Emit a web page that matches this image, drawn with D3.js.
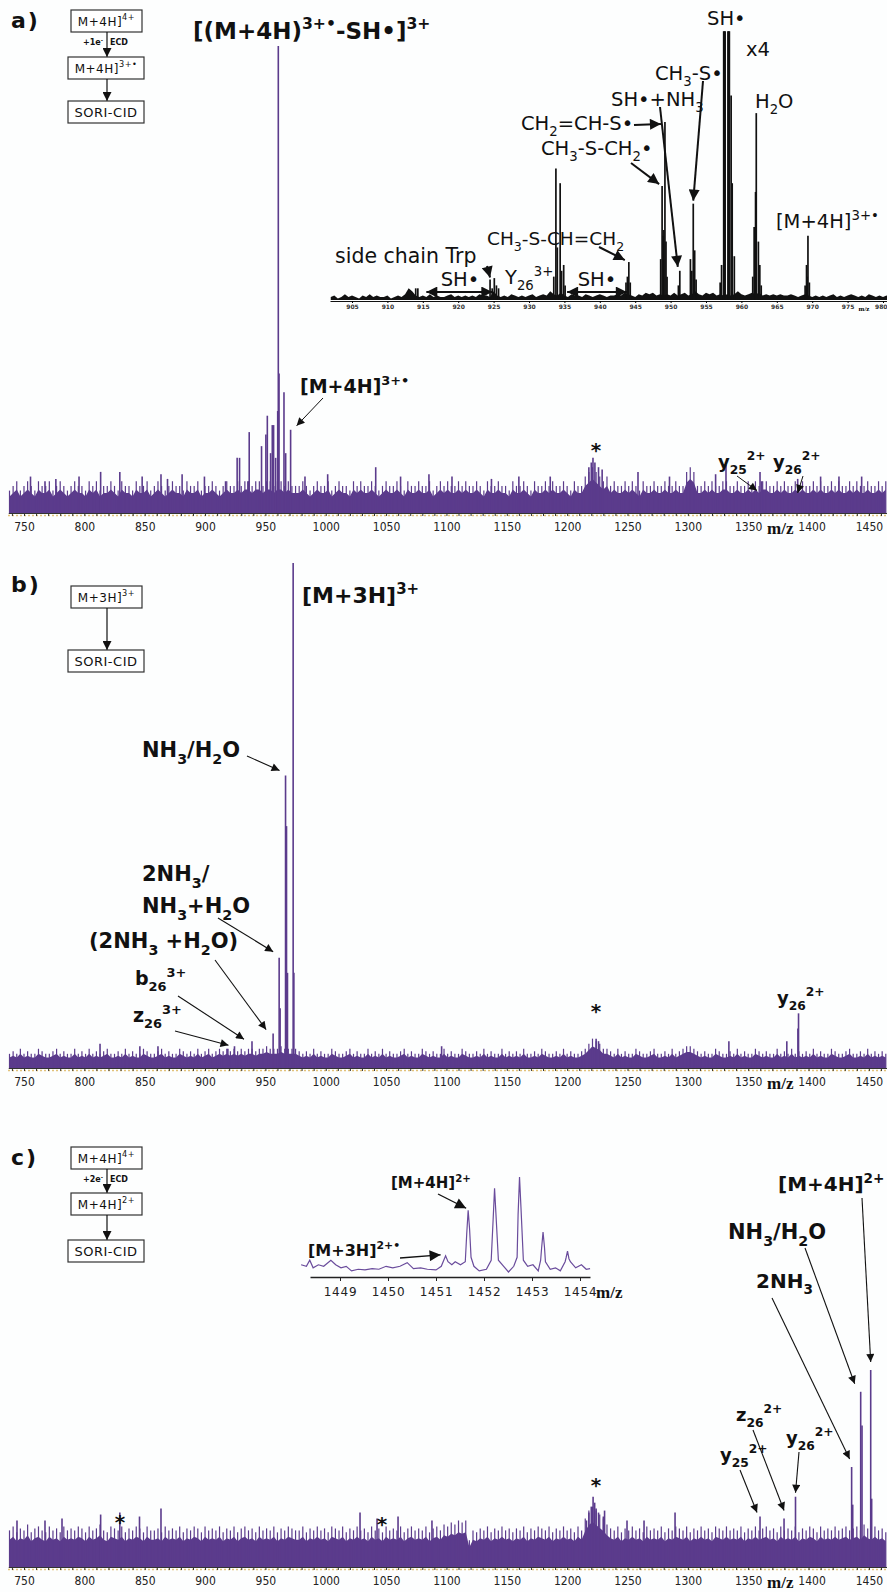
<!DOCTYPE html>
<html><head><meta charset="utf-8">
<script src="https://cdn.jsdelivr.net/npm/d3@7"></script>
<style>body{margin:0;background:#fff}</style>
</head><body><svg id="c" width="887" height="1592"></svg>
<script>
// ---------------- DATA ----------------
const mzTicks = [750,800,850,900,950,1000,1050,1100,1150,1200,1250,1300,1350,1400,1450];
const noiseStart = 738, noiseStep = 3;   // noise-floor samples every 3 m/z from 738
const noiseA = [5,6,7,5,6,7,6,5,7,6,6,7,5,6,7,6,5,6,7,6,
 6,5,7,6,7,5,6,6,7,6,5,7,6,6,5,7,6,6,7,5,
 6,7,6,5,6,7,6,6,5,7,6,6,7,5,6,6,7,6,5,6,
 7,6,6,7,6,7,7,6,7,7,6,7,7,6,7,7,6,7,6,6,
 6,7,6,5,6,7,6,6,7,5,6,7,6,6,5,7,6,7,6,6,
 7,6,5,6,7,6,6,7,6,5,7,6,6,7,6,6,7,5,6,7,
 6,7,6,6,7,6,7,6,6,7,6,5,7,6,6,7,6,6,5,7,
 6,6,7,6,5,7,6,6,7,6,7,6,6,7,6,5,7,6,6,8,
 9,10,9,8,7,8,6,7,6,6,7,6,7,6,5,7,6,6,7,6,
 6,7,6,6,7,6,6,9,10,9,6,6,7,6,7,6,6,7,7,6,
 6,7,6,6,7,6,7,6,7,7,6,6,7,6,7,6,6,7,6,7,
 6,6,7,6,7,6,6,7,6,7,6,6,7,6,7,6,6,7,6,6,
 7,6,7];
const peaksA = [[755.4,8],[767.4,7],[776.4,7.5],[795.6,8],[813.5,9],[829.4,9],[847.9,8],[863.5,8.5],[868.9,7.5],[881,8.5],
 [899.5,8],[917,7],[926.6,12],[928.6,12],[935.5,7],[936.6,17.5],[946.8,14.5],[950.4,17],[951.6,21],[954.3,13],[955.7,19],
 [956.8,19],[958.5,12],[960.2,22],[960.7,100],[961.3,30],[965.4,26],[966.8,13],[970.9,18],[982.8,8],[1001.6,8.5],
 [1041.4,10],[1062,8],[1085.5,8.5],[1104.6,8],[1137.3,7.5],[1160,8],[1186,8],[1218,10],[1220,11],[1221.4,12],[1223,11],
 [1226,10],[1229,9.5],[1258.7,9],[1284.8,8],[1323,8.5],[1331.6,10.5],[1359.8,9],[1361,7],[1391,7.5],[1410,8],[1425.2,8],[1444,8]];
const noiseB = [3,3.5,3,4,3,3.5,3,3,4,3.5,3,3,3.5,4,3,3.5,3,3,4,3,
 3.5,3,4,3,3.5,3,3.5,4,3,3,3.5,3,4,3,3.5,3,3,4,3.5,3,
 3,3.5,4,3,3.5,3,3,4,3.5,3,3.5,3,4,3,3.5,4,3,3.5,4,3.5,
 4,3.5,4,3.5,4,3.5,4,4,3.5,4,4,4.5,4,4,4,4.5,4,4,4,4,
 3.5,3,3.5,3,4,3,3.5,3,3,4,3.5,3,3,3.5,4,3,3.5,3,3,4,
 3,3.5,3,4,3,3.5,3,3,3.5,4,3,3.5,3,3,4,3.5,3,3.5,3,3,
 4,3,3.5,3,3,4,3.5,3,3,3.5,3,4,3,3.5,3,3,4,3,3.5,3,
 3.5,3,4,3,3,3.5,3,4,3.5,3,3,3.5,3,4,3,3.5,3,3,3.5,4,
 5,6,5.5,5,4,4,3.5,3,4,3,3.5,3,3,4,3.5,3,3,3.5,4,3,
 3,3.5,3,4,3,3.5,4,4.5,4.5,4,3.5,3,3.5,3,3,4,3.5,3,3,3.5,
 3,4,3,3.5,3,3,4,3.5,3,3.5,3,3,4,3,3.5,3,4,3,3.5,3,
 3.5,3,4,3,3.5,3,3,4,3.5,3,3,3.5,4,3,3,3.5,3,4,3,3.5,
 3,3.5,3];
const peaksB = [[813,5],[846,4.5],[861,4.5],[918.9,4],[924.4,4.5],[938.9,5.5],[956.4,7],[961.4,22],[962.2,12],[966.7,58],
 [967.5,48],[968.3,19],[973,100],[973.6,19],[1096,4.5],[1224,6],[1226,5.5],[1334,5.5],[1382,5.5],[1391.2,8],[1391.7,11]];
const noiseC = [19,21,18,20,19,22,18,20,21,19,18,21,19,20,18,21,19,20,19,21,
 20,18,21,19,20,22,19,18,21,20,19,21,18,20,19,21,20,18,21,19,
 19,20,18,21,19,20,19,21,18,20,19,21,20,18,21,19,20,19,21,18,
 20,19,21,18,20,21,19,20,18,21,19,20,19,21,18,20,19,21,20,19,
 19,21,18,20,19,21,19,20,18,21,20,19,21,18,20,19,21,19,20,18,
 21,19,20,18,21,19,20,19,21,18,20,21,19,20,19,21,18,20,21,19,
 22,21,23,22,24,23,24,14,19,18,20,19,21,18,20,19,21,19,20,18,
 20,19,21,18,20,19,21,20,19,21,18,20,19,21,19,20,18,21,19,25,
 29,31,29,27,25,22,20,19,21,18,20,19,21,19,20,18,21,19,20,19,
 21,18,20,19,21,20,19,21,18,20,19,21,19,20,18,21,20,19,21,19,
 20,19,21,18,20,19,21,19,20,21,19,20,18,21,19,20,19,21,18,20,
 19,21,20,18,21,19,20,19,21,19,20,21,19,20,21,19,22,20,19,21,
 19,20,18];
const peaksC = [[744.2,24],[767.4,24],[781.5,25],[813.5,27],[829.4,28],[845.7,26],[863.5,30],[1028.4,28],[1042.5,25],
 [1059.9,26],[1088,24],[1216,24],[1218,28],[1220,31],[1221.5,36],[1222.8,33],[1224,30],[1226,28],[1230,26],[1231,29],
 [1249.6,24],[1263.7,24],[1289.4,28],[1359.8,26],[1379.7,25],[1389.2,36],[1435.7,51],[1436.6,32],[1443.2,89],
 [1444.3,72],[1451.5,100],[1452.3,35]];
// inset of panel a (black)
const insetATicks = [905,910,915,920,925,930,935,940,945,950,955,960,965,970,975,980];
const insetANoiseStart = 902, insetANoiseStep = 0.5;
const insetANoise = [1,1.5,0.5,1,2,1,1.5,1,0.5,1.5,1,2,1,1.5,1,1,1.5,0.5,1,1.5,
 1,2,4,3,1.5,1,1.5,1,2,1,1.5,1,1,1.5,2,1,1.5,1,1.5,1,
 1.5,1,2,1.5,1.5,1,3,1.5,1,1.5,1,2,1.5,1,1.5,1,1.5,2,1,1.5,
 2,1.5,3,2,1.5,2.5,1.5,1,2,1.5,1.5,1,2,1.5,1,1.5,2,1.5,1,1.5,
 1.5,2,1.5,2.5,2,1.5,1,2,1.5,2.5,2,2.5,1.5,2,1.5,2,1.5,2.5,1.5,2,
 2.5,1.5,2,3,2,1.5,2.5,2,2.5,1.5,2,1.5,2,1.5,2,3,2,1.5,2,2.5,
 2,2.5,1.5,2,1.5,2,1.5,2,1.5,1.5,2,1.5,1,1.5,2,1.5,1,1.5,1,1.5,
 1,1.5,2,1,1.5,1,1.5,2,1.5,1,1.5,1,2,1.5,1,1.5,1,1.5,1,1.5];
const insetAPeaks = [[914.0,4],[914.3,4],[924.5,7],[924.8,4],[925.1,7.5],[925.4,5],[925.7,4],[933.5,8],[933.8,45],
 [934.0,18],[934.4,40],[934.6,10],[934.9,12],[935.1,5],[943.7,6],[943.9,8],[944.1,13],[944.3,6],[948.6,14],[948.8,39],
 [948.95,22],[949.05,24],[949.2,61],[949.35,20],[949.5,8],[951.1,5],[951.3,10],[952.8,14],[953.0,10],[953.2,33],
 [953.4,17],[953.6,7],[957.0,6],[957.2,12],[957.5,92],[957.6,92],[957.7,92],[958.1,92],[958.2,92],[958.3,92],
 [958.55,70],[958.7,40],[959.0,15],[961.6,8],[961.8,25],[962.0,37],[962.1,64],[962.4,20],[962.6,12],[962.8,5],
 [969.0,5],[969.2,12],[969.3,8],[969.4,22],[969.6,6]];
// inset of panel c (profile)
const insetCTicks = [1449,1450,1451,1452,1453,1454];
const insetCTrace = [[1448.19,7.6],[1448.30,6],[1448.37,12.4],[1448.44,4.4],[1448.55,7.6],[1448.66,6],[1448.81,12.4],
 [1448.91,7.6],[1449.02,4.4],[1449.13,6],[1449.24,1.2],[1449.38,2.9],[1449.52,2.2],[1449.67,3.5],[1449.81,2.9],
 [1449.96,6],[1450.10,4.4],[1450.25,6],[1450.40,9.8],[1450.53,3.5],[1450.68,4.4],[1450.82,2.9],[1451.00,2.2],
 [1451.11,6],[1451.20,17],[1451.25,10.8],[1451.33,7.6],[1451.40,10.8],[1451.51,7.6],[1451.61,10.8],[1451.64,40],
 [1451.67,65],[1451.70,45],[1451.73,15.5],[1451.79,6],[1451.90,1.2],[1452.05,2.9],[1452.15,12.4],[1452.19,55],
 [1452.22,88],[1452.25,60],[1452.30,12.4],[1452.41,6],[1452.51,0],[1452.62,6],[1452.69,15.5],[1452.71,60],
 [1452.74,100],[1452.77,68],[1452.82,12.4],[1452.91,6],[1453.02,7.6],[1453.13,1.2],[1453.18,12.4],[1453.20,25],
 [1453.23,42],[1453.26,26],[1453.28,10.8],[1453.38,2.9],[1453.49,4.4],[1453.59,1.2],[1453.69,10.8],[1453.71,15],
 [1453.74,22],[1453.77,14],[1453.80,10.8],[1453.91,4.4],[1454.03,7.6],[1454.13,2.9],[1454.21,3.5]];

// ---------------- DRAWING ----------------
const F = "'DejaVu Sans', Verdana, sans-serif";
const SERIF = "'Liberation Serif','DejaVu Serif',serif";
const PURPLE = "#5b3b8c";
const svg = d3.select('#c');
svg.append('rect').attr('width',887).attr('height',1592).attr('fill','#fdfefe');
const defs = svg.append('defs');
function marker(id, w, h){
  defs.append('marker').attr('id',id).attr('viewBox','0 0 10 10').attr('refX',10).attr('refY',5)
    .attr('markerWidth',w).attr('markerHeight',h).attr('markerUnits','userSpaceOnUse')
    .attr('orient','auto-start-reverse').append('path').attr('d','M0,0L10,5L0,10Z').attr('fill','#111');
}
marker('ah',10,8); marker('ahB',12,11); marker('ahF',9,9);
function arrow(x1,y1,x2,y2,m,w,both){
  const l = svg.append('line').attr('x1',x1).attr('y1',y1).attr('x2',x2).attr('y2',y2)
    .attr('stroke','#111').attr('stroke-width',w||1.1).attr('marker-end',`url(#${m||'ah'})`);
  if(both) l.attr('marker-start',`url(#${m||'ah'})`);
}
function rich(x, y, s, size, weight, anchor, family){
  const t = svg.append('text').attr('x',x).attr('y',y).attr('font-size',size)
    .attr('font-weight',weight||'normal').attr('font-family',family||F).attr('text-anchor',anchor||'start').attr('fill','#111');
  const re = /([_^])\{([^}]*)\}|([^_^]+)/g; let m, cur=0;
  while((m = re.exec(s))){
    let txt, off=0, fs=size;
    if(m[1]){ txt=m[2]; fs=size*0.68; off = m[1]==='_' ? size*0.32 : -size*0.42; }
    else txt=m[3];
    t.append('tspan').attr('dy',off-cur).attr('font-size',fs).text(txt);
    cur = off;
  }
  return t;
}

const x = d3.scaleLinear().domain([737,1465]).range([8.3,887]);
const fmt = d3.format('d');

function drawPanel(base, top, noise, peaks){
  const y = d3.scaleLinear().domain([0,100]).range([base, top]);
  const g = svg.append('g');
  const pts = noise.map((v,i)=>[noiseStart+noiseStep*i, v]);
  g.append('path').datum(pts).attr('fill',PURPLE)
    .attr('d', d3.area().x(d=>x(d[0])).y0(base).y1(d=>y(d[1]*0.75)));
  g.selectAll('line.n').data(pts).join('line').attr('class','n')
    .attr('x1',d=>x(d[0])).attr('x2',d=>x(d[0])).attr('y1',base).attr('y2',d=>y(d[1]))
    .attr('stroke',PURPLE).attr('stroke-width',1.2);
  g.selectAll('line.p').data(peaks).join('line').attr('class','p')
    .attr('x1',d=>x(d[0])).attr('x2',d=>x(d[0])).attr('y1',base).attr('y2',d=>y(d[1]))
    .attr('stroke',PURPLE).attr('stroke-width',1.6);
  g.append('line').attr('x1',8).attr('x2',887).attr('y1',base+1.5).attr('y2',base+1.5)
    .attr('stroke','#e2c27a').attr('stroke-width',1.5).attr('stroke-dasharray','2,2');
  const minor = g.append('g').attr('transform',`translate(0,${base-1})`)
    .call(d3.axisBottom(x).tickValues(d3.range(740,1466,10)).tickFormat('').tickSize(3).tickSizeOuter(0));
  minor.selectAll('line').attr('stroke','#333');
  minor.select('.domain').attr('stroke','#333').attr('stroke-width',1);
  const ax = g.append('g').attr('transform',`translate(0,${base})`)
    .call(d3.axisBottom(x).tickValues(mzTicks).tickFormat(fmt).tickSize(0).tickSizeOuter(0).tickPadding(8));
  ax.select('.domain').remove();
  ax.selectAll('text').attr('font-family',"'Liberation Sans Narrow','DejaVu Sans Condensed',sans-serif")
    .attr('font-size',12).attr('fill','#222');
  ax.selectAll('.tick').filter(d=>d===1400).select('text').attr('dx',3);
  rich(767, base+20, 'm/z', 17, 'bold', 'start', SERIF);
  return y;
}

function flow(items){
  items.forEach(it=>{
    if(it.box){
      svg.append('rect').attr('x',it.x0).attr('y',it.y).attr('width',it.x1-it.x0).attr('height',22)
        .attr('fill','#fff').attr('stroke','#333').attr('stroke-width',1.2);
      rich((it.x0+it.x1)/2, it.y+15.5, it.box, it.box==='SORI-CID'?13:12, 'normal','middle').attr('letter-spacing',0.5);
    } else {
      svg.append('line').attr('x1',107).attr('x2',107).attr('y1',it.y0).attr('y2',it.y1)
        .attr('stroke','#111').attr('stroke-width',1.2).attr('marker-end','url(#ahF)');
      if(it.lab){
        rich(103, it.y0+13, it.lab, 8, 'bold', 'end');
        rich(110, it.y0+13, 'ECD', 8, 'bold', 'start');
      }
    }
  });
}

// ===== Panel a =====
const yA = drawPanel(514, 46, noiseA, peaksA);
rich(11, 28, 'a)', 22, 'bold').attr('letter-spacing',2);
flow([{box:'M+4H]^{4+}',x0:71,x1:142,y:10},{y0:32,y1:57,lab:'+1e^{-}'},{box:'M+4H]^{3+•}',x0:68,x1:144,y:57},
      {y0:79,y1:101},{box:'SORI-CID',x0:68,x1:144,y:101}]);
rich(193, 39, '[(M+4H)^{3+•}-SH•]^{3+}', 23, 'bold');
rich(300, 393, '[M+4H]^{3+•}', 19, 'bold');
arrow(323,398, x(970.9)+6, yA(18)-4, 'ah', 1);
rich(596, 457, '*', 20, 'bold', 'middle');
rich(718, 468, 'y_{25}^{2+}', 18, 'bold');
rich(773, 468, 'y_{26}^{2+}', 18, 'bold');
arrow(737,476, x(1359.8)-3, yA(5), 'ah', 1);
arrow(803,476, x(1391), yA(4.5), 'ah', 1);

// inset a
const xi = d3.scaleLinear().domain([905,980]).range([352,883]);
const yi = d3.scaleLinear().domain([0,100]).range([300,8]);
{
  const g = svg.append('g');
  const pts = insetANoise.map((v,i)=>[insetANoiseStart+insetANoiseStep*i, v]);
  g.append('path').datum(pts).attr('fill','#111')
    .attr('d', d3.area().x(d=>xi(d[0])).y0(300).y1(d=>yi(d[1])));
  g.selectAll('line.p').data(insetAPeaks).join('line')
    .attr('x1',d=>xi(d[0])).attr('x2',d=>xi(d[0])).attr('y1',300).attr('y2',d=>yi(d[1]))
    .attr('stroke','#111').attr('stroke-width',1.7);
  const ax = g.append('g').attr('transform','translate(0,301)')
    .call(d3.axisBottom(xi.copy().domain([901.9,980.5]).range([330,887])).tickValues([]).tickSizeOuter(0));
  ax.select('.domain').attr('stroke','#111').attr('stroke-width',1.2);
  const ax2 = g.append('g').attr('transform','translate(0,301)')
    .call(d3.axisBottom(xi).tickValues(insetATicks).tickFormat(fmt).tickSize(2).tickPadding(2));
  ax2.select('.domain').remove();
  ax2.selectAll('text').attr('font-size',6).attr('font-family',F).attr('font-weight','bold').attr('fill','#333');
  ax2.selectAll('.tick').filter(d=>d===980).select('text').attr('text-anchor','end').attr('dx',4);
  g.append('text').attr('x',864).attr('y',311).attr('font-size',7).attr('font-family',SERIF)
    .attr('font-weight','bold').attr('text-anchor','middle').text('m/z');
}
const IS = 19.5;
rich(707, 25, 'SH•', IS);
rich(746, 56, 'x4', IS);
rich(655, 80, 'CH_{3}-S•', IS);
rich(611, 106, 'SH•+NH_{3}', IS);
rich(521, 130, 'CH_{2}=CH-S•', IS);
rich(541, 155, 'CH_{3}-S-CH_{2}•', IS);
rich(755, 108, 'H_{2}O', IS);
rich(776, 228, '[M+4H]^{3+•}', IS);
rich(487, 245, 'CH_{3}-S-CH=CH_{2}', 18.5);
rich(335, 263, 'side chain Trp', 20.5);
rich(505, 284, 'Y_{26}^{3+}', IS);
rich(460, 286, 'SH•', IS, 'normal', 'middle');
rich(597, 286, 'SH•', IS, 'normal', 'middle');
arrow(634,125, xi(949.2)-4, yi(61)+2, 'ahB', 2);
arrow(631,163, xi(948.8)-3, yi(39)-2, 'ahB', 2);
arrow(599,247, xi(944.1)-4, yi(13)-2, 'ahB', 2);
arrow(487,266, xi(924.5), yi(7)-2, 'ahB', 2);
arrow(703,81, xi(953.2), yi(33)-3, 'ahB', 2);
arrow(660,107, xi(951.3)-2, yi(10)-4, 'ahB', 2);
arrow(xi(915.5),292, xi(925.1)-2,292, 'ahB', 2.2, true);
arrow(xi(935.1)+2,292, xi(944.1)-2,292, 'ahB', 2.2, true);

// ===== Panel b =====
const yB = drawPanel(1069, 563, noiseB, peaksB);
rich(11, 592, 'b)', 22, 'bold').attr('letter-spacing',2);
flow([{box:'M+3H]^{3+}',x0:71,x1:142,y:586},{y0:608,y1:650},{box:'SORI-CID',x0:68,x1:144,y:650}]);
rich(302, 603, '[M+3H]^{3+}', 22, 'bold');
rich(142, 757, 'NH_{3}/H_{2}O', 21, 'bold');
arrow(247,756, x(966.7)-6, yB(58)-5);
rich(142, 881, '2NH_{3}/', 21, 'bold');
rich(142, 913, 'NH_{3}+H_{2}O', 21, 'bold');
arrow(218,918, x(961.4)-6, yB(22)-6);
rich(89, 948, '(2NH_{3} +H_{2}O)', 21, 'bold');
arrow(215,960, x(956.4)-7, yB(7)-4);
rich(135, 985, 'b_{26}^{3+}', 19, 'bold');
arrow(178,996, x(938.9)-8, yB(5.5)-2);
rich(133, 1022, 'z_{26}^{3+}', 19, 'bold');
arrow(175,1031, x(924.4)-6, yB(4.5)-1);
rich(596, 1018, '*', 20, 'bold', 'middle');
rich(777, 1004, 'y_{26}^{2+}', 18, 'bold');

// ===== Panel c =====
const yC = drawPanel(1568, 1370, noiseC, peaksC);
rich(11, 1165, 'c)', 22, 'bold').attr('letter-spacing',2);
flow([{box:'M+4H]^{4+}',x0:71,x1:142,y:1147},{y0:1169,y1:1193,lab:'+2e^{-}'},{box:'M+4H]^{2+}',x0:71,x1:142,y:1193},
      {y0:1215,y1:1240},{box:'SORI-CID',x0:68,x1:144,y:1240}]);
rich(120, 1529, '*', 20, 'bold', 'middle');
rich(382, 1531, '*', 20, 'bold', 'middle');
rich(596, 1492, '*', 20, 'bold', 'middle');
rich(778, 1191, '[M+4H]^{2+}', 20, 'bold');
arrow(862,1198, x(1451.5), yC(100)-8);
rich(728, 1239, 'NH_{3}/H_{2}O', 21, 'bold');
arrow(805,1248, x(1443.2)-6, yC(89)-8);
rich(756, 1288, '2NH_{3}', 20, 'bold');
arrow(772,1298, x(1435.7)-2, yC(51)-8);
rich(736, 1421, 'z_{26}^{2+}', 18, 'bold');
arrow(753,1430, x(1379.7), yC(25)-8);
rich(786, 1444, 'y_{26}^{2+}', 18, 'bold');
arrow(799,1452, x(1389.2), yC(36)-4);
rich(720, 1461, 'y_{25}^{2+}', 18, 'bold');
arrow(740,1470, x(1359.8)-3, yC(26)-4);

// inset c
const xc = d3.scaleLinear().domain([1449,1454]).range([340,580]);
const yc = d3.scaleLinear().domain([0,100]).range([1272,1177]);
{
  const g = svg.append('g');
  g.append('path').datum(insetCTrace).attr('fill','none').attr('stroke','#6a4c9c').attr('stroke-width',1.2)
    .attr('d', d3.line().x(d=>xc(d[0])).y(d=>yc(d[1])));
  const ax = g.append('g').attr('transform','translate(0,1277)')
    .call(d3.axisBottom(xc.copy().domain([1448.18,1454.2]).range([310,590])).tickValues([]).tickSizeOuter(0));
  ax.select('.domain').attr('stroke','#222').attr('stroke-width',1.4);
  const ax2 = g.append('g').attr('transform','translate(0,1277)')
    .call(d3.axisBottom(xc).tickValues(insetCTicks).tickFormat(fmt).tickSize(4).tickPadding(6));
  ax2.select('.domain').remove();
  ax2.selectAll('line').attr('stroke','#222');
  ax2.selectAll('text').attr('font-size',12).attr('font-family',F).attr('fill','#222').attr('letter-spacing',0.8);
  rich(596, 1298, 'm/z', 17, 'bold', 'start', SERIF);
}
rich(391, 1188, '[M+4H]^{2+}', 15, 'bold');
arrow(438,1194, xc(1451.67)-2, yc(65)-2, 'ahB', 1.4);
rich(308, 1256, '[M+3H]^{2+•}', 16, 'bold');
arrow(400,1258, xc(1451.2)-5, yc(17)-1, 'ahB', 1.4);
</script></body></html>
